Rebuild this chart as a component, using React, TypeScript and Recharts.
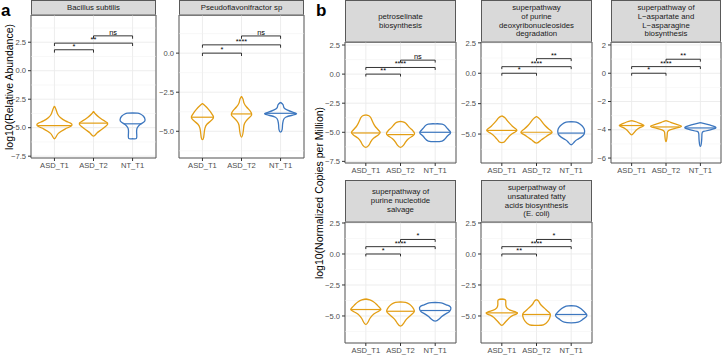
import React from 'react';
import {
  ComposedChart,
  Scatter,
  XAxis,
  YAxis,
  CartesianGrid,
  ReferenceLine,
  ReferenceArea
} from 'recharts';

const groups = ['ASD_T1', 'ASD_T2', 'NT_T1'];

// violin outlines: [log10 value, half width], top to bottom, one list per group
const bacillusViolins = [
  [[-3.1, 0], [-3.4, 0.04], [-3.8, 0.08], [-4.1, 0.15], [-4.4, 0.28], [-4.6, 0.41], [-4.75, 0.45], [-4.9, 0.41], [-5.1, 0.28], [-5.3, 0.18], [-5.5, 0.1], [-5.75, 0.05], [-5.97, 0]],
  [[-3.56, 0], [-3.8, 0.05], [-4.1, 0.15], [-4.4, 0.28], [-4.6, 0.36], [-4.8, 0.34], [-5.05, 0.25], [-5.3, 0.15], [-5.5, 0.08], [-5.74, 0]],
  [[-3.7, 0], [-3.72, 0.13], [-3.8, 0.2], [-4.0, 0.28], [-4.3, 0.32], [-4.5, 0.29], [-4.7, 0.2], [-4.9, 0.14], [-5.1, 0.11], [-5.5, 0.105], [-5.93, 0.1], [-5.97, 0]]
];
const pseudoViolins = [
  [[-3.23, 0], [-3.4, 0.08], [-3.6, 0.155], [-3.8, 0.22], [-4.0, 0.27], [-4.15, 0.28], [-4.35, 0.21], [-4.55, 0.115], [-4.8, 0.065], [-5.1, 0.045], [-5.4, 0.03], [-5.53, 0]],
  [[-2.77, 0], [-2.95, 0.04], [-3.2, 0.065], [-3.45, 0.13], [-3.7, 0.22], [-3.95, 0.26], [-4.15, 0.19], [-4.35, 0.115], [-4.6, 0.065], [-5.0, 0.045], [-5.38, 0]],
  [[-3.15, 0], [-3.3, 0.065], [-3.5, 0.09], [-3.65, 0.18], [-3.78, 0.31], [-3.88, 0.41], [-3.97, 0.31], [-4.1, 0.13], [-4.3, 0.07], [-4.6, 0.05], [-4.9, 0.04], [-5.06, 0]]
];
const petroViolins = [
  [[-3.5, 0], [-3.58, 0.09], [-3.75, 0.145], [-4.05, 0.19], [-4.4, 0.25], [-4.7, 0.33], [-4.95, 0.405], [-5.06, 0.41], [-5.25, 0.35], [-5.5, 0.23], [-5.8, 0.145], [-6.1, 0.09], [-6.29, 0]],
  [[-4.06, 0], [-4.15, 0.115], [-4.35, 0.19], [-4.6, 0.26], [-4.85, 0.35], [-5.1, 0.405], [-5.3, 0.36], [-5.55, 0.23], [-5.85, 0.145], [-6.1, 0.09], [-6.29, 0]],
  [[-4.27, 0], [-4.29, 0.2], [-4.45, 0.29], [-4.7, 0.36], [-4.95, 0.435], [-5.1, 0.435], [-5.3, 0.36], [-5.55, 0.29], [-5.75, 0.2], [-5.8, 0]]
];
const purineViolins = [
  [[-3.5, 0], [-3.65, 0.09], [-3.85, 0.145], [-4.1, 0.22], [-4.35, 0.305], [-4.55, 0.39], [-4.7, 0.435], [-4.85, 0.375], [-5.05, 0.26], [-5.3, 0.175], [-5.5, 0.115], [-5.65, 0.07], [-5.7, 0]],
  [[-3.56, 0], [-3.75, 0.09], [-4.0, 0.16], [-4.3, 0.245], [-4.6, 0.36], [-4.85, 0.45], [-5.05, 0.36], [-5.3, 0.23], [-5.5, 0.13], [-5.74, 0]],
  [[-3.97, 0], [-4.02, 0.145], [-4.2, 0.26], [-4.45, 0.35], [-4.7, 0.385], [-5.0, 0.375], [-5.25, 0.29], [-5.45, 0.175], [-5.65, 0.09], [-5.88, 0]]
];
const aspartateViolins = [
  [[-3.35, 0], [-3.45, 0.145], [-3.6, 0.29], [-3.7, 0.36], [-3.8, 0.29], [-3.95, 0.175], [-4.15, 0.09], [-4.36, 0]],
  [[-3.35, 0], [-3.45, 0.115], [-3.6, 0.29], [-3.75, 0.45], [-3.88, 0.29], [-4.0, 0.115], [-4.15, 0.045], [-4.5, 0.03], [-4.83, 0]],
  [[-3.49, 0], [-3.58, 0.145], [-3.72, 0.35], [-3.87, 0.45], [-4.0, 0.29], [-4.12, 0.09], [-4.3, 0.045], [-4.8, 0.035], [-5.18, 0]]
];
const salvageViolins = [
  [[-3.63, 0], [-3.7, 0.115], [-3.85, 0.22], [-4.05, 0.305], [-4.3, 0.39], [-4.48, 0.435], [-4.65, 0.35], [-4.85, 0.23], [-5.1, 0.145], [-5.35, 0.09], [-5.68, 0]],
  [[-3.87, 0], [-3.9, 0.145], [-4.05, 0.26], [-4.3, 0.35], [-4.6, 0.4], [-4.85, 0.335], [-5.1, 0.23], [-5.35, 0.145], [-5.6, 0.09], [-5.82, 0]],
  [[-3.9, 0], [-3.95, 0.175], [-4.1, 0.32], [-4.25, 0.435], [-4.45, 0.45], [-4.65, 0.405], [-4.85, 0.29], [-5.05, 0.19], [-5.25, 0.115], [-5.42, 0]]
];
const fattyViolins = [
  [[-3.63, 0], [-3.68, 0.09], [-3.8, 0.115], [-4.1, 0.115], [-4.35, 0.145], [-4.55, 0.26], [-4.75, 0.45], [-4.95, 0.32], [-5.15, 0.22], [-5.4, 0.13], [-5.6, 0.07], [-5.76, 0]],
  [[-3.68, 0], [-3.8, 0.06], [-4.0, 0.1], [-4.2, 0.16], [-4.45, 0.26], [-4.7, 0.36], [-4.9, 0.4], [-5.2, 0.375], [-5.45, 0.32], [-5.72, 0.2], [-5.76, 0]],
  [[-4.16, 0], [-4.2, 0.145], [-4.4, 0.275], [-4.65, 0.375], [-4.9, 0.45], [-5.1, 0.42], [-5.3, 0.32], [-5.5, 0.2], [-5.55, 0]]
];

// medians: [value, half width of the median line]
const bacillusMedians = [[-4.81, 0.43], [-4.6, 0.36], [-4.66, 0.22]];
const pseudoMedians = [[-4.1, 0.28], [-3.89, 0.25], [-3.85, 0.38]];
const petroMedians = [[-5.06, 0.41], [-5.2, 0.38], [-5.0, 0.435]];
const purineMedians = [[-4.7, 0.435], [-4.85, 0.45], [-4.92, 0.377]];
const aspartateMedians = [[-3.7, 0.36], [-3.8, 0.39], [-3.87, 0.45]];
const salvageMedians = [[-4.48, 0.435], [-4.62, 0.4], [-4.56, 0.425]];
const fattyMedians = [[-4.75, 0.45], [-4.88, 0.4], [-4.88, 0.45]];

// significance brackets: [from group, to group, height, label]
const bacillusSig = [[1, 2, 1.84, '*'], [1, 3, 2.42, '**'], [2, 3, 3.06, 'ns']];
const pseudoSig = [[1, 2, 0, '*'], [1, 3, 0.53, '****'], [2, 3, 1.1, 'ns']];
const petroSig = [[1, 2, 0, '**'], [1, 3, 0.57, '****'], [2, 3, 1.2, 'ns']];
const purineSig = [[1, 2, 0, '*'], [1, 3, 0.54, '****'], [2, 3, 1.2, '**']];
const aspartateSig = [[1, 2, 0, '*'], [1, 3, 0.47, '****'], [2, 3, 0.99, '**']];
const salvageSig = [[1, 2, 0, '*'], [1, 3, 0.59, '****'], [2, 3, 1.17, '*']];
const fattySig = [[1, 2, 0, '**'], [1, 3, 0.59, '****'], [2, 3, 1.17, '*']];

const ticks25 = [-7.5, -5, -2.5, 0, 2.5];
const minor25 = [-6.25, -3.75, -1.25, 1.25, 3.75];
const ticks2 = [-6, -4, -2, 0, 2];
const minor2 = [-5, -3, -1, 1];

const FONT = "'Liberation Sans', Arial, Helvetica, sans-serif";
const groupColors = ['#E39E14', '#E39E14', '#3D77BF'];
const Y_AXIS_W = 26;
const X_AXIS_H = 16;
const PAD = 2;

type Row = (number | string)[];

const outline = (profile: number[][], center: number) => {
  const right = profile.map(([y, w]) => ({ x: center + w, y }));
  const left = profile.slice(1, -1).reverse().map(([y, w]) => ({ x: center - w, y }));
  return [...right, ...left, right[0]];
};

const fmt = (digits: number) => (v: number) => v.toFixed(digits).replace('-', '\u2212');
const noDot = () => <g />;

interface FacetProps {
  left: number;
  top: number;
  width: number;
  height: number;
  strip: string[];
  stripH: number;
  yDomain: [number, number];
  yTicks: number[];
  yMinor: number[];
  digits: number;
  violins: number[][][];
  medians: number[][];
  brackets: Row[];
}

const Facet = (p: FacetProps) => {
  const [lo, hi] = p.yDomain;
  const tip = (hi - lo) * 0.02;
  const tickStyle = { fontSize: 7.6, fill: '#4d4d4d', fontFamily: FONT };
  return (
    <>
      <div
        style={{
          position: 'absolute',
          left: p.left,
          top: p.top - p.stripH,
          width: p.width,
          height: p.stripH + 1,
          boxSizing: 'border-box',
          background: '#d9d9d9',
          border: '1px solid #595959',
          display: 'flex',
          flexDirection: 'column',
          justifyContent: 'center',
          alignItems: 'center',
          fontSize: 7.8,
          lineHeight: '8.8px',
          color: '#1a1a1a',
          textAlign: 'center',
          whiteSpace: 'nowrap'
        }}
      >
        {p.strip.map((s, i) => (
          <div key={i}>{s}</div>
        ))}
      </div>
      <div style={{ position: 'absolute', left: p.left - Y_AXIS_W, top: p.top - PAD }}>
        <ComposedChart
          width={Y_AXIS_W + p.width + PAD}
          height={p.height + X_AXIS_H + PAD}
          margin={{ top: PAD, right: PAD, bottom: 0, left: 0 }}
        >
          <CartesianGrid stroke="#ebebeb" strokeWidth={0.9} />
          {p.yMinor.map((v) => (
            <ReferenceLine key={'m' + v} y={v} stroke="#f0f0f0" strokeWidth={0.5} />
          ))}
          <XAxis
            type="number"
            dataKey="x"
            domain={[0.4, 3.6]}
            ticks={[1, 2, 3]}
            interval={0}
            allowDataOverflow
            tickFormatter={(v: number) => groups[v - 1]}
            tick={tickStyle}
            tickLine={{ stroke: '#333333' }}
            tickSize={3}
            tickMargin={2}
            axisLine={false}
            height={X_AXIS_H}
          />
          <YAxis
            type="number"
            dataKey="y"
            domain={p.yDomain}
            ticks={p.yTicks.filter((t) => t >= lo && t <= hi)}
            interval={0}
            allowDataOverflow
            tickFormatter={fmt(p.digits)}
            tick={tickStyle}
            tickLine={{ stroke: '#333333' }}
            tickSize={3}
            tickMargin={2}
            axisLine={false}
            width={Y_AXIS_W}
          />
          {p.violins.map((prof, i) => (
            <Scatter
              key={'v' + i}
              data={outline(prof, i + 1)}
              fill="none"
              line={{ stroke: groupColors[i], strokeWidth: 1.3 }}
              lineJointType="natural"
              shape={noDot}
              isAnimationActive={false}
            />
          ))}
          {p.medians.map(([y, w], i) => (
            <Scatter
              key={'md' + i}
              data={[{ x: i + 1 - w, y }, { x: i + 1 + w, y }]}
              fill="none"
              line={{ stroke: groupColors[i], strokeWidth: 1.2 }}
              shape={noDot}
              isAnimationActive={false}
            />
          ))}
          {p.brackets.map(([a, b, y], i) => (
            <Scatter
              key={'b' + i}
              data={[
                { x: a as number, y: (y as number) - tip },
                { x: a as number, y: y as number },
                { x: b as number, y: y as number },
                { x: b as number, y: (y as number) - tip }
              ]}
              fill="none"
              line={{ stroke: '#111111', strokeWidth: 0.85 }}
              shape={noDot}
              isAnimationActive={false}
            />
          ))}
          {p.brackets.map(([a, b, y, label], i) => (
            <Scatter
              key={'l' + i}
              data={[{ x: ((a as number) + (b as number)) / 2, y: y as number }]}
              shape={(sp: any) => (
                <text
                  x={sp.cx}
                  y={sp.cy - 1}
                  textAnchor="middle"
                  fontSize={7.4}
                  fontFamily={FONT}
                  fill="#000000"
                >
                  {label}
                </text>
              )}
              isAnimationActive={false}
            />
          ))}
          <ReferenceArea
            x1={0.4}
            x2={3.6}
            y1={lo}
            y2={hi}
            fill="none"
            fillOpacity={0}
            stroke="#595959"
            strokeWidth={1}
            ifOverflow="visible"
          />
        </ComposedChart>
      </div>
    </>
  );
};

const yLabel = (text: string, cx: number, cy: number) => (
  <div
    style={{
      position: 'absolute',
      left: cx,
      top: cy,
      transform: 'translate(-50%, -50%) rotate(-90deg)',
      whiteSpace: 'nowrap',
      fontSize: 10.5,
      color: '#000'
    }}
  >
    {text}
  </div>
);

const App = () => (
  <div
    style={{
      position: 'absolute',
      left: 0,
      top: 0,
      width: 722,
      height: 355,
      background: '#fff',
      fontFamily: FONT,
      overflow: 'hidden'
    }}
  >
    <div style={{ position: 'absolute', left: 1, top: 2, fontSize: 17, fontWeight: 'bold', lineHeight: 1 }}>a</div>
    <div style={{ position: 'absolute', left: 316, top: 2, fontSize: 17, fontWeight: 'bold', lineHeight: 1 }}>b</div>
    {yLabel('log10(Relative Abundance)', 9, 87)}
    {yLabel('log10(Normalized Copies per Million)', 319, 193)}

    <Facet left={31} top={15} width={125} height={143} strip={['Bacillus subtilis']} stripH={15}
      yDomain={[-7.66, 4.89]} yTicks={ticks25} yMinor={minor25} digits={1}
      violins={bacillusViolins} medians={bacillusMedians} brackets={bacillusSig} />
    <Facet left={179} top={15} width={125} height={143} strip={['Pseudoflavonifractor sp']} stripH={15}
      yDomain={[-6.71, 2.44]} yTicks={ticks25} yMinor={minor25} digits={1}
      violins={pseudoViolins} medians={pseudoMedians} brackets={pseudoSig} />

    <Facet left={345} top={42} width={111} height={121} strip={['petroselinate', 'biosynthesis']} stripH={42}
      yDomain={[-7.64, 2.76]} yTicks={ticks25} yMinor={minor25} digits={1}
      violins={petroViolins} medians={petroMedians} brackets={petroSig} />
    <Facet left={481} top={42} width={111} height={121}
      strip={['superpathway', 'of purine', 'deoxyribonucleosides', 'degradation']} stripH={42}
      yDomain={[-7.38, 2.57]} yTicks={ticks25} yMinor={minor25} digits={1}
      violins={purineViolins} medians={purineMedians} brackets={purineSig} />
    <Facet left={611} top={42} width={110} height={121}
      strip={['superpathway of', 'L\u2212aspartate and', 'L\u2212asparagine', 'biosynthesis']} stripH={42}
      yDomain={[-6.35, 2.21]} yTicks={ticks2} yMinor={minor2} digits={0}
      violins={aspartateViolins} medians={aspartateMedians} brackets={aspartateSig} />

    <Facet left={345} top={222} width={111} height={121}
      strip={['superpathway of', 'purine nucleotide', 'salvage']} stripH={42}
      yDomain={[-7.18, 2.58]} yTicks={ticks25} yMinor={minor25} digits={1}
      violins={salvageViolins} medians={salvageMedians} brackets={salvageSig} />
    <Facet left={481} top={222} width={111} height={121}
      strip={['superpathway of', 'unsaturated fatty', 'acids biosynthesis', '(E. coli)']} stripH={42}
      yDomain={[-7.18, 2.58]} yTicks={ticks25} yMinor={minor25} digits={1}
      violins={fattyViolins} medians={fattyMedians} brackets={fattySig} />
  </div>
);

export default App;
